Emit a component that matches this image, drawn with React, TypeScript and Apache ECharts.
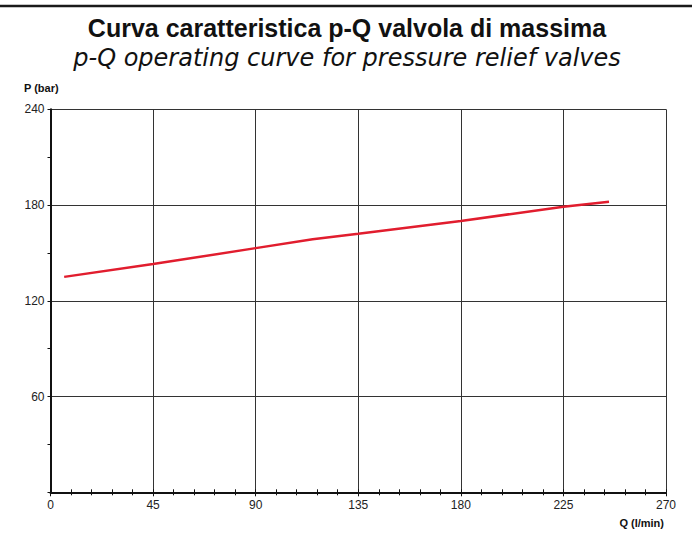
import React, { useEffect, useRef } from "react";
import * as echarts from "echarts";

// Data
const flowQ = [6, 45, 90, 115, 135, 180, 225, 245];
const pressureP = [135, 143, 153, 158.5, 162, 170, 179, 182];
const xMin = 0;
const xMax = 270;
const xStep = 45;
const yMin = 0;
const yMax = 240;
const yStep = 60;
const titleMain = "Curva caratteristica p-Q valvola di massima";
const titleSub = "p-Q operating curve for pressure relief valves";
const yName = "P (bar)";
const xName = "Q (l/min)";

export default function App() {
  const ref = useRef<HTMLDivElement>(null);
  useEffect(() => {
    document.body.style.margin = "0";
    const chart = echarts.init(ref.current!, null, { renderer: "svg" });
    const data = flowQ.map((q, i) => [q, pressureP[i]]);
    const baseX = {
      type: "value" as const,
      min: xMin,
      max: xMax,
      interval: xStep,
    };
    chart.setOption({
      animation: false,
      backgroundColor: "#ffffff",
      title: [
        {
          text: titleMain,
          left: "center",
          top: 10,
          textStyle: {
            fontFamily: "Liberation Sans",
            fontWeight: "bold",
            fontSize: 25,
            color: "#111",
          },
        },
        {
          text: titleSub,
          left: "center",
          top: 41,
          textStyle: {
            fontFamily: "DejaVu Sans",
            fontStyle: "italic",
            fontWeight: "normal",
            fontSize: 24,
            color: "#111",
          },
        },
      ],
      graphic: [
        {
          type: "line",
          shape: { x1: 0, y1: 6, x2: 692, y2: 6 },
          style: { stroke: "#1a1a1a", lineWidth: 2.5 },
        },
        {
          type: "text",
          left: 24,
          top: 82,
          style: {
            text: yName,
            font: "bold 11px 'Liberation Sans'",
            fill: "#111",
          },
        },
        {
          type: "text",
          right: 30,
          top: 517,
          style: {
            text: xName,
            font: "bold 11px 'Liberation Sans'",
            fill: "#111",
          },
        },
      ],
      grid: { left: 50.5, right: 28, top: 109.3, bottom: 43.7 },
      xAxis: [
        {
          ...baseX,
          position: "bottom",
          axisLine: { show: true, lineStyle: { color: "#111", width: 2 } },
          axisTick: { show: true, length: 4, lineStyle: { color: "#111", width: 1 } },
          minorTick: { show: true, splitNumber: 5, length: 3, lineStyle: { color: "#111", width: 1 } },
          splitLine: { show: true, lineStyle: { color: "#333", width: 1 } },
          axisLabel: {
            margin: 7,
            fontSize: 12,
            fontFamily: "Liberation Sans",
            color: "#222",
          },
        },
        {
          ...baseX,
          position: "bottom",
          axisLine: { show: false },
          axisTick: { show: true, inside: true, length: 3, lineStyle: { color: "#111", width: 1 } },
          minorTick: { show: true, splitNumber: 5, length: 3, lineStyle: { color: "#111", width: 1 } },
          splitLine: { show: false },
          axisLabel: { show: false },
        },
      ],
      yAxis: {
        type: "value",
        min: yMin,
        max: yMax,
        interval: yStep,
        axisLine: { show: true, lineStyle: { color: "#111", width: 2 } },
        axisTick: { show: true, length: 3, lineStyle: { color: "#111", width: 1 } },
        minorTick: { show: true, splitNumber: 2, length: 3, lineStyle: { color: "#111", width: 1 } },
        splitLine: { show: true, lineStyle: { color: "#333", width: 1 } },
        axisLabel: {
          margin: 6,
          fontSize: 12,
          fontFamily: "Liberation Sans",
          color: "#222",
          showMinLabel: false,
        },
      },
      series: [
        {
          type: "line",
          data,
          showSymbol: false,
          symbol: "none",
          lineStyle: { color: "#e11d2e", width: 2.5 },
          z: 5,
        },
      ],
    });
    return () => chart.dispose();
  }, []);
  return (
    <div
      ref={ref}
      style={{ position: "fixed", left: 0, top: 0, width: 694, height: 536 }}
    />
  );
}
